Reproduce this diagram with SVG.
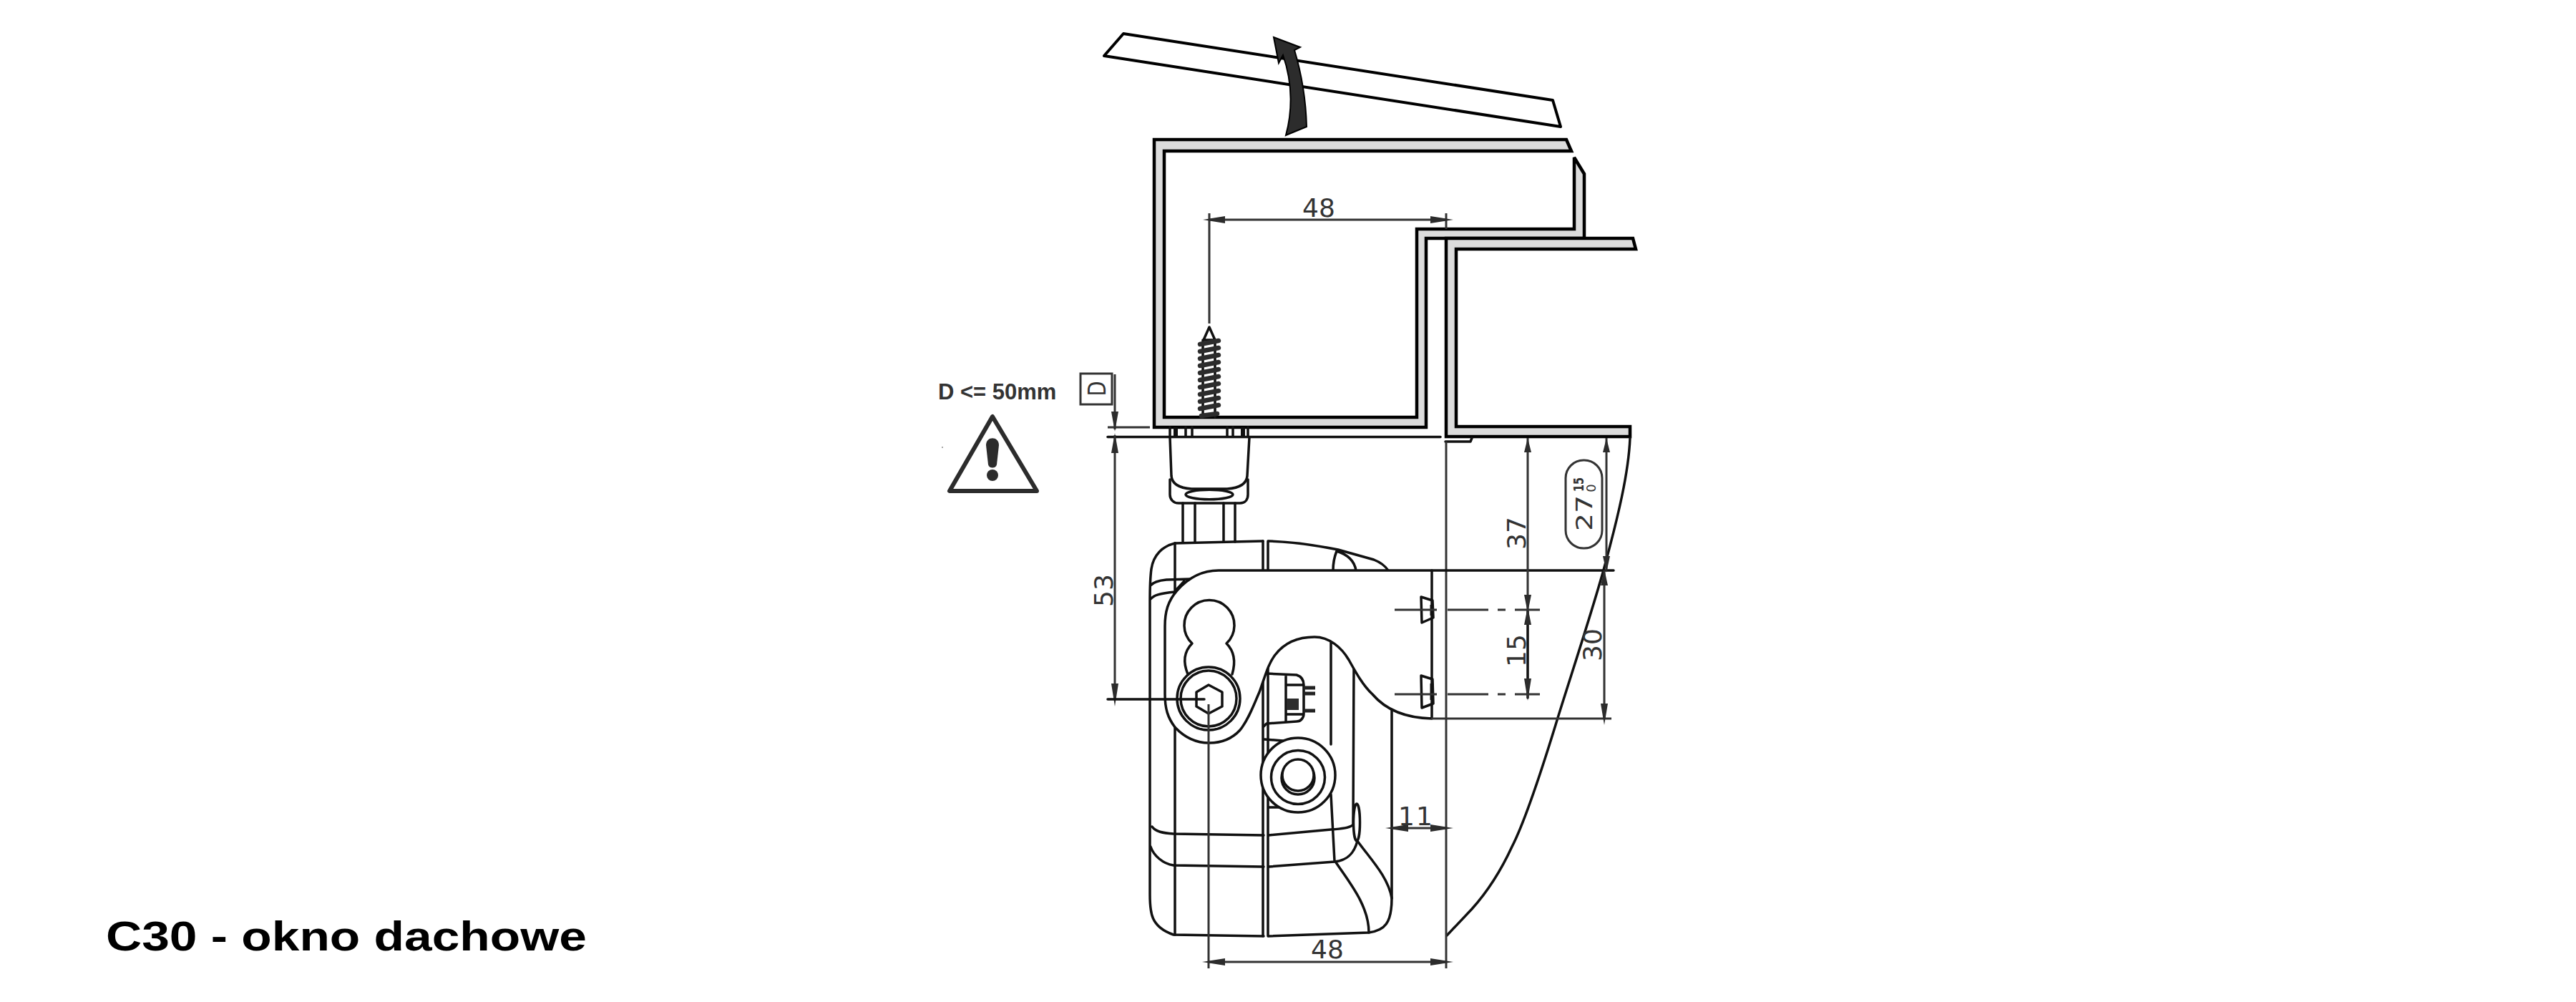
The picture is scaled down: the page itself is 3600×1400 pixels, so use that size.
<svg xmlns="http://www.w3.org/2000/svg" width="3600" height="1400" viewBox="0 0 3600 1400">
<style>
.b{fill:none;stroke:#111;stroke-width:3.5;stroke-linejoin:round;stroke-linecap:round}
.w{fill:#fff;stroke:#111;stroke-width:3.5;stroke-linejoin:round}
.g{fill:#dcdcdc;stroke:#000;stroke-width:4.5;stroke-linejoin:miter;stroke-miterlimit:2}
.d{fill:none;stroke:#333;stroke-width:3}
.a{fill:#2c2c2c;stroke:none}
.t{font-family:"DejaVu Sans",sans-serif;font-size:36px;fill:#333;text-anchor:middle}
</style>
<rect width="3600" height="1400" fill="#fff"/>
<g id="lid"><polygon points="1570,47 2170,140 2181,177 1543,78" fill="#fff" stroke="#000" stroke-width="4" stroke-linejoin="round"/></g>
<g id="lift-arrow"><path d="M1780,52 L1817,66 L1809,70 C1818,100 1825,140 1826,177 L1797,189 C1805,160 1808,120 1793,77 L1787,88 Z" fill="#2c2c2c" stroke="#000" stroke-width="2"/></g>
<g id="frame-sash"><path class="g" d="M1613,195 L2189,195 L2196,211 L1627,211 L1627,583 L1980,583 L1980,320 L2200,320 L2200,220 L2214,243 L2214,333 L1993,333 L1993,597 L1613,597 Z"/></g>
<g id="frame-outer"><path class="g" d="M2021,333 L2282,333 L2286,348 L2035,348 L2035,596 L2278,596 L2278,610 L2021,610 Z"/>
<path class="b" d="M2020,617 L2055,617 L2057,612" stroke-width="3"/></g>
<g id="swing-curve"><path class="b" d="M2278,612 C2276,660 2262,720 2240,800 C2220,870 2195,945 2177,1003 C2155,1075 2130,1150 2113,1183 C2095,1222 2075,1250 2057,1270 L2022,1307"/></g>
<g id="screw">
<path class="b" d="M1690,457 L1682,475 L1698,475 Z M1681,475 L1681,583 M1698,475 L1698,583"/>
<g stroke="#2c2c2c" stroke-width="6.5" stroke-linecap="round"><path d="M1677,481 L1703,476 M1677,491 L1703,486 M1677,501 L1703,496 M1677,511 L1703,506 M1677,521 L1703,516 M1677,531 L1703,526 M1677,541 L1703,536 M1677,551 L1703,546 M1677,561 L1703,556 M1677,571 L1703,566 M1679,581 L1701,578"/></g>
</g>
<g id="hinge-body">
<path class="b" d="M1642,759 L1765,756 M1773,756 C1810,757 1840,762 1870,768 L1920,782 C1930,786 1936,791 1940,797 M1868,770 C1864,780 1863,788 1863,797 M1868,770 C1884,775 1893,785 1895,797"/>
<path class="b" d="M1642,759 C1625,763 1612,775 1609,795 C1607,810 1607,820 1607,840 L1607,1250 C1607,1275 1608,1295 1640,1306 L1766,1308 M1773,1308 L1913,1303 C1935,1300 1945,1290 1945,1255 L1945,992"/>
<path class="b" d="M1642,759 L1642,1306 M1765,756 L1765,1308 M1772,756 L1772,1308 M1860,890 L1860,1040 M1860,1110 L1865,1203 M1892,930 L1891,1153"/>
<path class="b" d="M1608,818 C1612,813 1620,811 1630,810 L1663,809 M1608,837 C1612,832 1620,829 1642,827 M1643,825 L1655,812"/>
<path class="b" d="M1610,1155 C1615,1162 1625,1164 1640,1165 L1766,1167 M1773,1167 L1860,1159 C1875,1158 1885,1157 1890,1153"/>
<path class="b" d="M1608,1183 C1612,1195 1625,1207 1640,1209 L1766,1211 M1773,1211 L1865,1204 C1885,1202 1893,1190 1897,1175"/>
<path class="b" d="M1867,1205 C1885,1232 1913,1265 1913,1303 M1897,1175 C1915,1200 1940,1225 1945,1255"/>
<ellipse class="b" cx="1896" cy="1149" rx="4.5" ry="26"/>
</g>
<g id="mount-cap">
<path class="b" d="M1635,611 L1637,665 C1638,678 1650,682 1665,683 L1715,683 C1730,682 1742,678 1743,665 L1746,611"/>
<path class="b" d="M1635,670 L1635,691 C1635,698 1640,703 1647,703 L1733,703 C1740,703 1744,698 1744,691 L1744,670"/>
<ellipse class="b" cx="1690" cy="691" rx="33" ry="6.7"/>
<path class="b" d="M1653,703 L1653,758 M1670,703 L1670,758 M1710,703 L1710,757 M1726,703 L1726,757"/>
<path class="b" d="M1635,597 V610 M1657,597 V610 M1666,597 V610 M1715,597 V610 M1723,597 V610 M1744,597 V610"/>
<path d="M1643,597 V610 M1737,597 V610" fill="none" stroke="#111" stroke-width="6"/>
</g>
<g id="bracket">
<path class="w" d="M2001,797 L1703,797 C1680,797 1660,808 1645,825 C1632,840 1628,855 1628,875 L1628,970 C1628,990 1632,1003 1642,1016 C1655,1030 1672,1038 1690,1038 C1708,1038 1722,1032 1733,1020 C1745,1005 1752,985 1760,967 C1768,945 1772,928 1782,915 C1795,898 1815,890 1837,890 C1858,890 1875,905 1885,922 C1895,940 1905,958 1918,970 C1935,990 1960,1003 2001,1004 Z"/>
<path class="b" d="M1660,942 C1653,925 1655,910 1666,899 A35,35 0 1 1 1714,899 C1725,910 1727,925 1722,942"/>
<path class="b" d="M1986,834 L2002,839 L2003,863 L1987,870 Z M1986,944 L2002,949 L2003,983 L1987,989 Z"/>
<path d="M2001,845 V860 M2001,955 V978" stroke="#111" stroke-width="5"/>
</g>
<g id="hex-bolt">
<circle class="w" cx="1689" cy="976" r="44"/>
<circle class="b" cx="1689" cy="976" r="39"/>
<polygon class="b" points="1689,957 1708,967 1708,987 1689,997 1672,987 1672,967"/>
</g>
<g id="clip">
<path class="b" d="M1770,941 L1812,943 C1818,945 1822,950 1822,957 L1822,997 C1822,1003 1818,1008 1812,1008 L1770,1011 L1766,1015 M1797,943 V1008 M1798,957 H1822 M1798,998 H1822 M1767,1033 L1793,1035 M1773,1128 L1787,1128"/>
<rect class="a" x="1798" y="976" width="17" height="16"/>
<path d="M1822,961 H1838 M1822,969 H1838 M1822,993 H1838" stroke="#222" stroke-width="5"/>
</g>
<g id="nut">
<circle class="w" cx="1814" cy="1083" r="52"/>
<circle class="b" cx="1814" cy="1086" r="37.5"/>
<circle class="b" cx="1814" cy="1087" r="23"/>
<circle class="w" cx="1814" cy="1083" r="22"/>
</g>
<g id="connectors">
<path class="d" d="M1548,597 H1607"/>
<path class="b" d="M1548,610.5 H2013"/>
<path class="d" d="M1558,523 V600 M1558,608 V977"/>
<path class="a" d="M1558,603 L1553,575 H1563 Z M1558,605 L1553,633 H1563 Z M1558,987 L1553,955 H1563 Z"/>
<path class="b" d="M1548,977 H1683"/>
<path class="d" d="M1690,298 V452 M2021,298 V320 M1690,307 H2021"/>
<path class="a" d="M1681,307 L1712,302 V312 Z M2031,307 L1999,302 V312 Z"/>
<path class="d" d="M2021,617 V1353 M1689,984 V1353"/>
<path class="d" d="M1945,1157 H2021 M1689,1344 H2021"/>
<path class="a" d="M1936,1157 L1968,1152 V1162 Z M2031,1157 L1999,1152 V1162 Z M1680,1344 L1712,1339 V1349 Z M2031,1344 L1999,1339 V1349 Z"/>
<path class="b" d="M2001,797 H2255"/>
<path class="d" d="M2000,1004 H2252"/>
<path class="d" d="M2135,612 V852 M2245,612 V797 M2242,797 V1004"/>
<path class="b" d="M2135,852 V975"/>
<path class="a" d="M2135,612 L2130,632 H2140 Z M2135,856 L2130,831 H2140 Z M2135,848 L2130,873 H2140 Z M2135,979 L2130,948 H2140 Z M2245,612 L2240,632 H2250 Z M2245,800 L2240,777 H2250 Z M2242,795 L2237,818 H2247 Z M2242,1013 L2237,983 H2247 Z"/>
<path class="d" d="M1949,852 H2008 M2023,852 H2080 M2093,852 H2104 M2117,852 H2152 M1949,970 H2008 M2023,970 H2080 M2093,970 H2104 M2117,970 H2152"/>
</g>
<g id="labels">
<text class="t" x="1843" y="303">48</text>
<text class="t" x="1855" y="1339">48</text>
<text class="t" x="1979" y="1153" letter-spacing="2">11</text>
<text class="t" transform="translate(2132,745) rotate(-90)">37</text>
<text class="t" transform="translate(2132,909) rotate(-90)">15</text>
<text class="t" transform="translate(2238,901) rotate(-90)">30</text>
<text class="t" transform="translate(1555,825) rotate(-90)">53</text>
<text class="t" style="font-size:32px" transform="translate(2225,717) rotate(-90)" textLength="50" lengthAdjust="spacingAndGlyphs">27</text>
<text class="t" style="font-size:20px;font-weight:700" transform="translate(2213,677) rotate(-90)" textLength="20" lengthAdjust="spacingAndGlyphs">15</text>
<text class="t" style="font-size:18px" transform="translate(2230,682) rotate(-90)">0</text>
</g>
<g id="tolerance-pill"><rect class="d" x="2188" y="643" width="51" height="123" rx="25" ry="25"/></g>
<g id="d-box">
<rect x="1510" y="522" width="44" height="43" fill="none" stroke="#333" stroke-width="3"/>
<text class="t" style="font-size:34px" transform="translate(1545,543) rotate(-90)" textLength="21" lengthAdjust="spacingAndGlyphs">D</text>
</g>
<g id="warning">
<text x="1311" y="558" font-family="'Liberation Sans',Arial,sans-serif" font-weight="700" font-size="31" fill="#333">D &lt;= 50mm</text>
<polygon points="1387,582 1327,686 1449,686" fill="#fff" stroke="#2c2c2c" stroke-width="6" stroke-linejoin="round"/>
<path class="a" d="M1378,622 C1378,609 1396,609 1396,622 L1393,649 C1392,655 1382,655 1381,649 Z"/>
<circle class="a" cx="1387" cy="664" r="8"/>
<circle cx="1317" cy="625" r="1" fill="#888"/>
</g>
<g id="title"><text x="148" y="1328" font-family="'Liberation Sans',Arial,sans-serif" font-weight="700" font-size="58" fill="#000" textLength="672" lengthAdjust="spacingAndGlyphs">C30 - okno dachowe</text></g>
</svg>
